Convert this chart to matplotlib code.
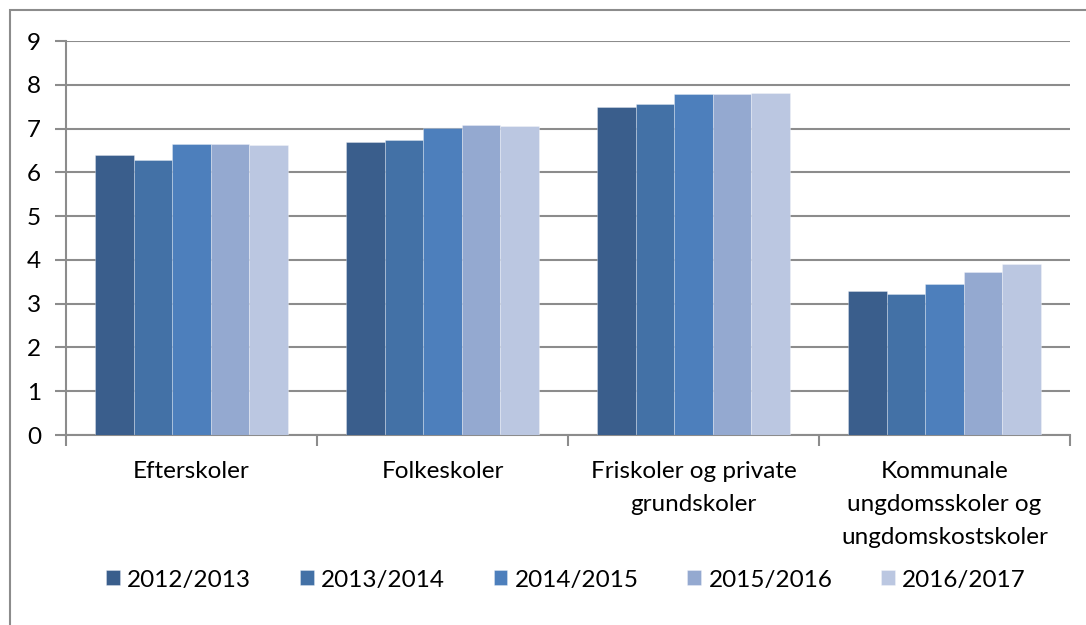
import matplotlib
matplotlib.use("Agg")
import matplotlib.pyplot as plt
import numpy as np
from matplotlib.patches import Rectangle

categories = ["Efterskoler", "Folkeskoler", "Friskoler og private\ngrundskoler",
              "Kommunale\nungdomsskoler og\nungdomskostskoler"]
series_names = ["2012/2013", "2013/2014", "2014/2015", "2015/2016", "2016/2017"]
values = {
    "2012/2013": [6.39, 6.69, 7.50, 3.29],
    "2013/2014": [6.28, 6.73, 7.55, 3.21],
    "2014/2015": [6.64, 7.02, 7.80, 3.45],
    "2015/2016": [6.65, 7.07, 7.80, 3.73],
    "2016/2017": [6.62, 7.05, 7.81, 3.91],
}
colors = ["#3A5E8C", "#4371A6", "#4D7FBC", "#94A9D0", "#BBC7E1"]
yticks = list(range(0, 10))

plt.rcParams['font.family'] = ['Lato', 'DejaVu Sans']
FS = 17.5

fig = plt.figure(figsize=(10.86, 6.25), dpi=100)
# chart border
fig.patches.append(Rectangle((10/1086, -0.1), 1.2, 1 - 10/625 + 0.1, transform=fig.transFigure,
                             fill=False, edgecolor="#8C8C8C", linewidth=1.5))

ax = fig.add_axes([66/1086, 1 - 435/625, (1070 - 66)/1086, (435 - 41)/625])
x = np.arange(len(categories))
n = len(series_names)
w = 193/251/n
for i, name in enumerate(series_names):
    ax.bar(x - 193/251/2 + w*(i + 0.5), values[name], width=w, color=colors[i],
           edgecolor=(1, 1, 1, 0.35), linewidth=0.6, label=name, zorder=3)

ax.set_xlim(-0.5, len(categories) - 0.5)
ax.set_ylim(0, 9)
ax.set_yticks(yticks)
ax.set_yticklabels([str(t) for t in yticks], fontsize=FS)
ax.yaxis.grid(True, color="#8C8C8C", linewidth=1.5, zorder=0)
ax.set_axisbelow(True)
ax.set_xticks(x)
ax.set_xticklabels(categories, fontsize=FS, linespacing=1.7, va="top")
ax.tick_params(axis="x", which="major", length=0, pad=19)
ax.set_xticks(np.arange(-0.5, len(categories)), minor=True)
ax.tick_params(axis="x", which="minor", length=8, width=1.5, color="#8C8C8C", direction="out")
ax.tick_params(axis="y", length=8, width=1.5, color="#8C8C8C", direction="out", pad=10)
for s in ["top", "right"]:
    ax.spines[s].set_visible(False)
for s in ["left", "bottom"]:
    ax.spines[s].set_color("#8C8C8C")
    ax.spines[s].set_linewidth(1.5)

handles, labels = ax.get_legend_handles_labels()
leg = fig.legend(handles, labels, loc="center", bbox_to_anchor=(566/1086, 1 - 580/625),
                 ncol=5, frameon=False, fontsize=FS, handlelength=0.57, handleheight=0.57,
                 handletextpad=0.3, columnspacing=2.0)

fig.savefig("out.png", dpi=100)
